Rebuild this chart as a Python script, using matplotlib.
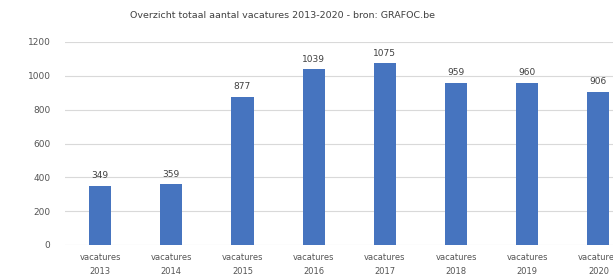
import matplotlib.pyplot as plt

jaren = ['2013', '2014', '2015', '2016', '2017', '2018', '2019', '2020']
vacatures = [349, 359, 877, 1039, 1075, 959, 960, 906]
categorieen = ['vacatures\n' + j for j in jaren]
yticks = [0, 200, 400, 600, 800, 1000, 1200]

fig = plt.figure(figsize=(6.13, 2.78), dpi=100)
ax = fig.add_axes([64.5 / 613, 33 / 278, (634 - 64.5) / 613, 203 / 278])

x = list(range(len(vacatures)))
bars = ax.bar(x, vacatures, width=0.31, color='#4674BF', zorder=3)
ax.bar_label(bars, labels=[str(v) for v in vacatures], padding=4,
             fontsize=6.5, color='#404040')

ax.set_xlim(-0.5, len(vacatures) - 0.5)
ax.set_ylim(0, 1200)
ax.set_yticks(yticks)
ax.set_xticks(x)
ax.set_xticklabels(categorieen, fontsize=6, color='#555555', linespacing=1.6)
ax.tick_params(axis='y', labelsize=6.5, labelcolor='#555555', length=0, pad=10)
ax.tick_params(axis='x', length=0, pad=6)
ax.grid(axis='y', color='#d9d9d9', linewidth=0.8, zorder=0)
for s in ax.spines.values():
    s.set_visible(False)

fig.text(283 / 613, 1 - 15 / 278, 'Overzicht totaal aantal vacatures 2013-2020 - bron: GRAFOC.be',
         ha='center', va='center', fontsize=6.8, color='#404040')

fig.savefig('out.png', dpi=100)
